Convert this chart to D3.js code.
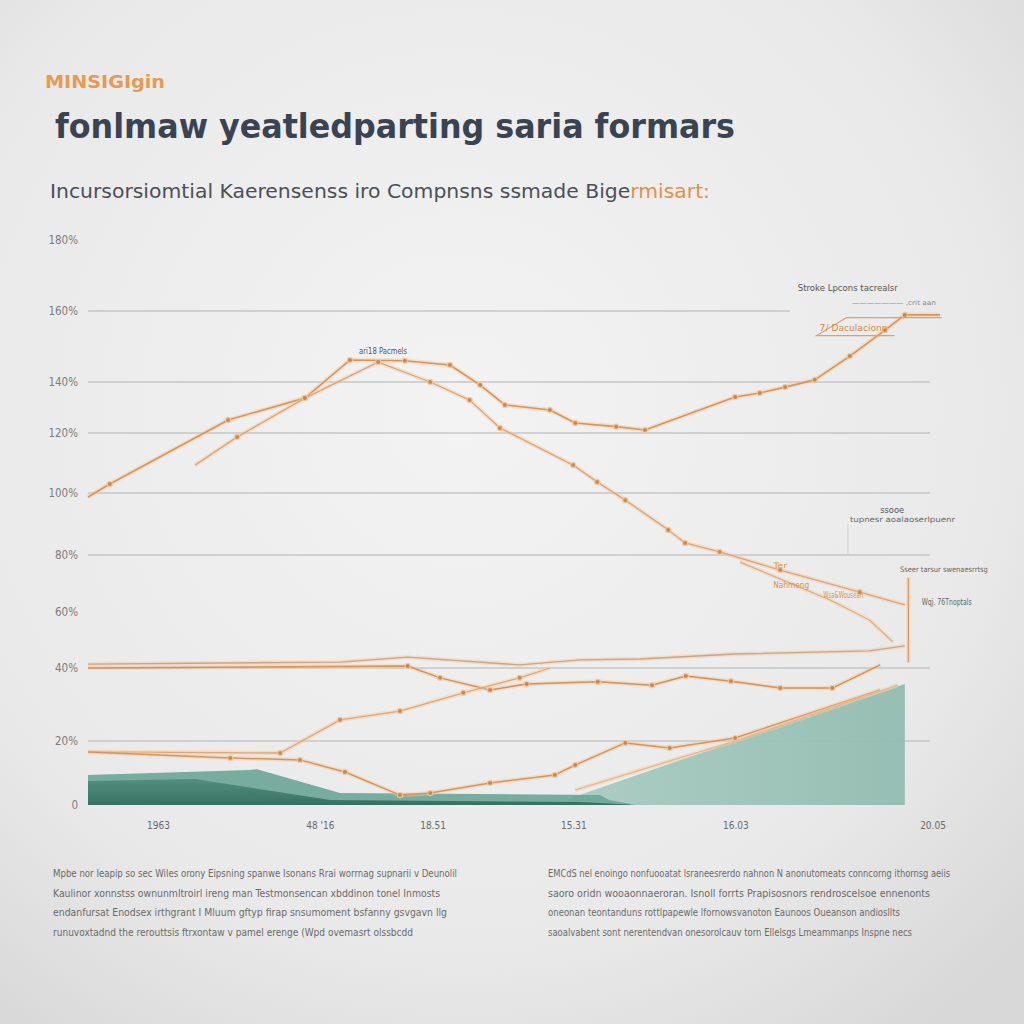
<!DOCTYPE html>
<html><head><meta charset="utf-8">
<script src="https://cdn.jsdelivr.net/npm/d3@7"></script>
<style>html,body{margin:0;padding:0;background:#e9e9e9}svg{display:block}</style>
</head><body>
<svg id="c" width="1024" height="1024"></svg>
<script>
// ---------- data ----------
const yTickValues = [0,20,40,60,80,100,120,140,160,180];
const yTickLabels = ["0","20%","40%","60%","80%","100%","120%","140%","160%","180%"];
const gridValues = [20,40,80,100,120,140,160];
const xTickValues = [2014, 2016.3, 2017.9, 2019.9, 2022.2, 2025];
const xTickLabels = ["1963","48 '16","18.51","15.31","16.03","20.05"];

const seriesA = [[2013.0,98.7],[2013.31,103],[2014.99,125.1],[2016.08,133.7],[2016.72,146.2],[2017.5,146],[2018.14,144.8],[2018.57,138.8],[2018.92,131],[2019.56,129],[2019.92,123.9],[2020.5,122.5],[2020.91,121.2],[2022.19,134.1],[2022.54,135.7],[2022.9,138],[2023.32,140.6],[2023.82,147.3],[2024.32,154.6],[2024.6,158.9],[2025.1,158.9]];
const seriesB = [[2014.52,109.3],[2015.12,118.7],[2016.08,133.7],[2017.12,145.6],[2017.86,140],[2018.42,132.9],[2018.85,122],[2019.89,109.3],[2020.23,103.7],[2020.63,97.7],[2021.24,88.1],[2021.48,83.9],[2021.97,81],[2022.83,74.7],[2023.96,67],[2024.6,62.5]];
const seriesG = [[2022.26,77.5],[2023.54,64.2],[2024.1,57.1],[2024.43,49.3]];
const seriesC = [[2013.0,41.4],[2016.58,42.1],[2017.54,43.9],[2019.13,41.1],[2019.99,42.9],[2020.84,43.2],[2022.19,45],[2024.1,46.1],[2024.6,47.9]];
const seriesD = [[2013.0,40],[2017.54,40.7],[2018.0,37.3],[2018.71,34],[2019.23,35.6],[2020.24,36.2],[2021.01,35.3],[2021.49,37.8],[2022.13,36.4],[2022.83,34.5],[2023.57,34.5],[2024.25,41.1]];
const seriesE = [[2013.0,16.6],[2015.73,16.25],[2016.58,25.8],[2017.43,28.2],[2018.33,33.2],[2019.13,37.3],[2019.56,40]];
const seriesF = [[2013.0,16.6],[2015.02,14.7],[2016.01,14.1],[2016.65,10.3],[2017.43,3.1],[2017.86,3.75],[2018.71,6.9],[2019.63,9.4],[2019.92,12.5],[2020.63,19.4],[2021.26,17.8],[2022.19,20.8],[2024.25,34]];
const seriesH = [[2019.92,4.7],[2022.19,20],[2024.5,35.3]];
const seriesV = [[2024.65,72],[2024.65,42]];

const areaMid = [[2013.0,9.4],[2015.3,10.9],[2015.4,11.2],[2016.58,3.75],[2020.27,3.1],[2020.4,1.6],[2020.7,0.3]];
const areaDark = [[2013.0,7.5],[2014.52,8.1],[2016.44,1.6],[2020.0,0.9],[2020.8,0]];
const areaLight = [[2019.7,0],[2019.94,2.8],[2022.19,20],[2024.6,35.6]];

const annotations = [
  {x:2016.85, y:147.8, t:"ari18 Pacmels", c:"#555", s:8.5, w:48},
  {x:2023.08, y:165.5, t:"Stroke Lpcons tacrealsr", c:"#555", s:8.5, w:100},
  {x:2023.85, y:161.6, t:"——————— ,crit aan", c:"#888", s:6.5, w:84},
  {x:2023.39, y:154.5, t:"7/ Daculacionn", c:"#d58a4a", s:8.5, w:68},
  {x:2024.25, y:93.4, t:"ssooe", c:"#555", s:8, w:24},
  {x:2023.82, y:90.6, t:"tupnesr aoalaoserlpuenr", c:"#666", s:7.5, w:105},
  {x:2024.53, y:74.2, t:"Sseer tarsur swenaesrrtsg", c:"#666", s:7.5, w:88},
  {x:2024.84, y:62.3, t:"Wqj. 76Tnoptals", c:"#666", s:8, w:50},
  {x:2022.73, y:75.5, t:"Ter", c:"#d9963f", s:7.5, w:14},
  {x:2022.73, y:68.3, t:"Nahmeng", c:"#d9963f", s:8, w:36},
  {x:2023.44, y:64.8, t:"Wsa&Wousean", c:"#d9963f", s:8, w:40}
];

const leftPara = [
  "Mpbe nor Ieapip so sec Wiles orony Eipsning spanwe Isonans Rrai worrnag supnarii v Deunolil",
  "Kaulinor xonnstss ownunmltroirl ireng man Testmonsencan xbddinon tonel Inmosts",
  "endanfursat Enodsex irthgrant I Mluum gftyp firap snsumoment bsfanny gsvgavn llg",
  "runuvoxtadnd the rerouttsis ftrxontaw v pamel erenge (Wpd ovemasrt olssbcdd"
];
const rightPara = [
  "EMCdS nel enoingo nonfuooatat lsraneesrerdo nahnon N anonutomeats conncorng ithornsg aeiis",
  "saoro oridn wooaonnaeroran. Isnoll forrts Prapisosnors rendroscelsoe ennenonts",
  "oneonan teontanduns rottlpapewle lfornowsvanoton Eaunoos Oueanson andiosllts",
  "saoalvabent sont nerentendvan onesorolcauv torn Ellelsgs Lmeammanps Inspne necs"
];
const leftWidths = [404, 387, 394, 360];
const rightWidths = [402, 382, 352, 364];

// ---------- drawing ----------
const svg = d3.select("#c");
const FONT = "'DejaVu Sans Condensed','Liberation Sans Narrow','Roboto Condensed',sans-serif";

const defs = svg.append("defs");
const bg = defs.append("radialGradient").attr("id","bg").attr("cx","45%").attr("cy","40%").attr("r","75%");
bg.append("stop").attr("offset","0%").attr("stop-color","#f3f3f3");
bg.append("stop").attr("offset","70%").attr("stop-color","#e9e9e9");
bg.append("stop").attr("offset","100%").attr("stop-color","#d8d8d8");
svg.append("rect").attr("width",1024).attr("height",1024).attr("fill","url(#bg)");

const lg = defs.append("linearGradient").attr("id","tealL").attr("x1","0").attr("x2","1").attr("y1","0").attr("y2","0");
lg.append("stop").attr("offset","0%").attr("stop-color","#a9ccc2");
lg.append("stop").attr("offset","100%").attr("stop-color","#93bcb0");
const dg = defs.append("linearGradient").attr("id","tealD").attr("x1","0").attr("x2","0").attr("y1","0").attr("y2","1");
dg.append("stop").attr("offset","0%").attr("stop-color","#4f8c7c");
dg.append("stop").attr("offset","100%").attr("stop-color","#2f6a5c");

const x = d3.scaleLinear().domain([2013, 2025]).range([88, 933]);
const y = d3.scaleLinear()
  .domain(yTickValues)
  .range([805,741,668,612,555,493,433,382,311,240]);

// titles
svg.append("text").attr("x",45).attr("y",88).attr("font-family",FONT).attr("font-weight","bold")
  .attr("font-size",17).attr("fill","#e59a55").attr("textLength",120).attr("lengthAdjust","spacingAndGlyphs")
  .text("MINSIGIgin");
svg.append("text").attr("x",55).attr("y",138).attr("font-family",FONT).attr("font-weight","bold")
  .attr("font-size",33).attr("fill","#3a4352").attr("textLength",680).attr("lengthAdjust","spacingAndGlyphs")
  .text("fonlmaw yeatledparting  saria formars");
const sub = svg.append("text").attr("x",50).attr("y",198).attr("font-family",FONT)
  .attr("font-size",19).attr("fill","#4b5058").attr("textLength",660).attr("lengthAdjust","spacingAndGlyphs");
sub.append("tspan").text("Incursorsiomtial  Kaerensenss  iro  Compnsns  ssmade  Bige");
sub.append("tspan").attr("fill","#e0904a").text("rmisart:");

// gridlines
svg.append("g").selectAll("line").data(gridValues).join("line")
  .attr("x1", 88).attr("x2", d => d===160 ? 790 : 930)
  .attr("y1", d => y(d)).attr("y2", d => y(d))
  .attr("stroke","#c6c6c6").attr("stroke-width",1.3);

// y axis labels
svg.append("g").selectAll("text").data(yTickValues).join("text")
  .attr("x",78).attr("y",d=>y(d)+4).attr("text-anchor","end")
  .attr("font-family",FONT).attr("font-size",11.5).attr("fill","#7c7c7c")
  .text((d,i)=>yTickLabels[i]);

// x axis labels
svg.append("g").selectAll("text").data(xTickValues).join("text")
  .attr("x",d=>x(d)).attr("y",829).attr("text-anchor","middle")
  .attr("font-family",FONT).attr("font-size",10).attr("fill","#6a6a6a")
  .text((d,i)=>xTickLabels[i]);

// areas
const area = d3.area().x(d=>x(d[0])).y0(y(0)).y1(d=>y(d[1]));
svg.append("path").datum(areaLight).attr("d",area).attr("fill","url(#tealL)").attr("opacity",0.95);
svg.append("path").datum(areaMid).attr("d",area).attr("fill","#6aa596").attr("opacity",0.9);
svg.append("path").datum(areaDark).attr("d",area).attr("fill","url(#tealD)").attr("opacity",0.9);

// lines
const line = d3.line().x(d=>x(d[0])).y(d=>y(d[1]));
const lines = [
  {d:seriesA, c:"#d6955a", w:1.6},
  {d:seriesB, c:"#dca57a", w:1.3},
  {d:seriesG, c:"#dcaa80", w:1.1},
  {d:seriesC, c:"#c9a58c", w:1.4},
  {d:seriesD, c:"#d19256", w:1.5},
  {d:seriesE, c:"#e0a678", w:1.3},
  {d:seriesF, c:"#d3965d", w:1.5},
  {d:seriesH, c:"#e4b48a", w:1.2},
  {d:seriesV, c:"#d89a66", w:1.3}
];
const lg2 = svg.append("g");
lines.forEach(s=>{
  lg2.append("path").datum(s.d).attr("d",line).attr("fill","none")
    .attr("stroke","#f3c9a2").attr("stroke-width",s.w+3).attr("opacity",0.45).attr("stroke-linejoin","round");
  lg2.append("path").datum(s.d).attr("d",line).attr("fill","none")
    .attr("stroke",s.c).attr("stroke-width",s.w).attr("stroke-linejoin","round");
});
// dots
const dotSeries = [seriesA, seriesB, seriesD, seriesE, seriesF];
dotSeries.forEach(sd=>{
  lg2.append("g").selectAll("circle").data(sd.slice(1,-1)).join("circle")
    .attr("cx",d=>x(d[0])).attr("cy",d=>y(d[1])).attr("r",2.6)
    .attr("fill","#c4834a").attr("stroke","#f0c79e").attr("stroke-width",1.2).attr("opacity",0.85);
});

// annotation decorations (anchored to data coords)
const ann = svg.append("g");
const bx = x(2023.39), byy = y(154.5);
ann.append("path").attr("d",`M${bx+27},${byy-13} L${bx+122},${byy-13} M${bx+27},${byy-13} L${bx-3},${byy+5} L${bx+75},${byy+5}`)
  .attr("fill","none").attr("stroke","#d9a074").attr("stroke-width",1.2);
const mx = x(2023.82), my = y(90.6);
ann.append("path").attr("d",`M${mx-2},${my+2} L${mx-2},${my+33}`).attr("stroke","#d0d0d0").attr("fill","none");
annotations.forEach(a=>{
  ann.append("text").attr("x",x(a.x)).attr("y",y(a.y)).attr("font-family",FONT)
    .attr("font-size",a.s).attr("fill",a.c).attr("textLength",a.w).attr("lengthAdjust","spacingAndGlyphs").text(a.t);
});

// bottom paragraphs
const para = svg.append("g").attr("font-family",FONT).attr("font-size",10.5).attr("fill","#6a6a6a");
leftPara.forEach((t,i)=>{
  para.append("text").attr("x",53).attr("y",877+i*19.5).attr("textLength",leftWidths[i])
    .attr("lengthAdjust","spacingAndGlyphs").text(t);
});
rightPara.forEach((t,i)=>{
  para.append("text").attr("x",548).attr("y",877+i*19.5).attr("textLength",rightWidths[i])
    .attr("lengthAdjust","spacingAndGlyphs").text(t);
});
</script>
</body></html>
